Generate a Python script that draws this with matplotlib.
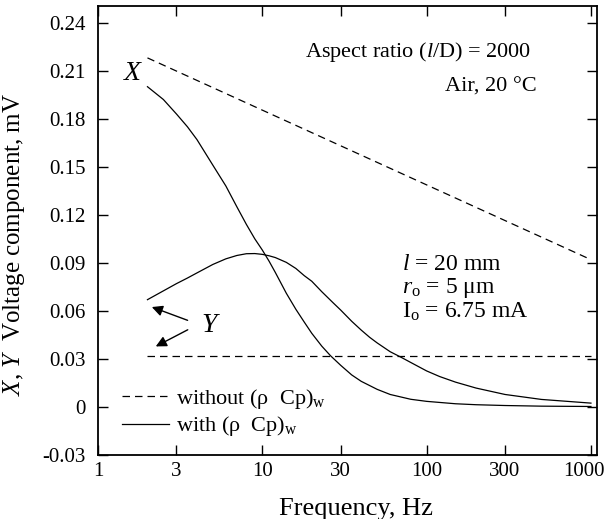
import numpy as np
import matplotlib
matplotlib.use('Agg')
import matplotlib.pyplot as plt
import matplotlib.transforms as mtransforms

plt.rcParams['font.family'] = ['Liberation Serif', 'DejaVu Serif']
plt.rcParams['mathtext.fontset'] = 'custom'
plt.rcParams['mathtext.rm'] = 'Liberation Serif'
plt.rcParams['mathtext.it'] = 'Liberation Serif:italic'

# datos
f_lin = [2, 1000]
x_sin = [0.218, 0.092]          # X sin (rho Cp)w, recta en log f
y_sin = [0.032, 0.032]          # Y sin (rho Cp)w

f_x = [2, 2.5, 3, 3.5, 4, 5, 6, 7, 8, 9, 10, 11, 12, 14, 16, 18, 20, 23, 26, 30,
       35, 40, 50, 60, 80, 100, 150, 200, 300, 500, 1000]
x_con = [0.200, 0.192, 0.183, 0.175, 0.167, 0.151, 0.138, 0.125, 0.114, 0.105, 0.098,
         0.091, 0.084, 0.071, 0.061, 0.053, 0.046, 0.038, 0.032, 0.026,
         0.020, 0.016, 0.011, 0.0078, 0.0048, 0.0035, 0.002, 0.0014, 0.0009, 0.0005, 0.0003]

f_y = [2, 2.5, 3, 3.5, 4, 5, 6, 7, 8, 9, 10, 11, 12, 14, 16, 18, 20, 23, 27, 30,
       35, 40, 45, 50, 60, 70, 80, 100, 120, 150, 200, 300, 500, 1000]
y_con = [0.067, 0.0725, 0.077, 0.0805, 0.0837, 0.089, 0.0925, 0.0946, 0.0957, 0.0958,
         0.0953, 0.0944, 0.0933, 0.0903, 0.0865, 0.082, 0.0785, 0.072, 0.065, 0.0605,
         0.0535, 0.048, 0.0435, 0.040, 0.0345, 0.031, 0.0278, 0.0225, 0.019, 0.0155,
         0.0118, 0.0078, 0.0047, 0.0024]

xticks = [1, 3, 10, 30, 100, 300, 1000]
yticks = [-0.03, 0, 0.03, 0.06, 0.09, 0.12, 0.15, 0.18, 0.21, 0.24]
ytick_labels = ['-0.03', '0', '0.03', '0.06', '0.09', '0.12', '0.15', '0.18', '0.21', '0.24']

fig = plt.figure(figsize=(6.09, 5.19), dpi=100)
ax = fig.add_axes([98 / 609, 64 / 519, 498.5 / 609, 449 / 519])

ax.plot(f_lin, x_sin, 'k--', lw=0.9, dashes=(6, 4), label='without (ρ  Cp)$_\\mathrm{w}$')
ax.plot(f_x, x_con, 'k-', lw=0.9, label='with (ρ  Cp)$_\\mathrm{w}$')
ax.plot(f_lin, y_sin, 'k--', lw=0.9, dashes=(6, 4))
ax.plot(f_y, y_con, 'k-', lw=0.9)

ax.set_xscale('log')
ax.set_xlim(1, 1081)
ax.set_ylim(-0.03, 0.2504)
ax.set_xticks(xticks)
ax.set_xticklabels([str(t) for t in xticks])
ax.minorticks_off()
ax.set_yticks(yticks)
ax.set_yticklabels(ytick_labels)
ax.tick_params(direction='in', length=7, width=1, top=True, right=True, labelsize=15)
ax.tick_params(axis='x', pad=5)
ax.tick_params(axis='y', pad=9)
for s in ax.spines.values():
    s.set_linewidth(1.3)

# la etiqueta 1000 queda pegada al borde derecho: se corre un poco a la izquierda
ultimo = ax.get_xticklabels()[-1]
ultimo.set_transform(ultimo.get_transform() +
                     mtransforms.ScaledTranslation(-7 / 100, 0, fig.dpi_scale_trans))

ax.set_xlabel('Frequency, Hz', fontsize=19)
ax.xaxis.set_label_coords(0.518, -0.095)
ax.set_ylabel('$X$, $Y$  Voltage component, mV', fontsize=18)
ax.yaxis.set_label_coords(-0.143, 0.47)

ax.text(436, 0.2215, 'Aspect ratio ($l$/D) = 2000', fontsize=16, ha='right', va='center')
ax.text(468, 0.200, 'Air, 20 °C', fontsize=16, ha='right', va='center')
ax.text(70.5, 0.0887, '$l$ = 20 mm', fontsize=17, ha='left', va='center')
ax.text(70.5, 0.0741, '$r_\\mathrm{o}$ = 5 μm', fontsize=17, ha='left', va='center')
ax.text(70.5, 0.0595, 'I$_\\mathrm{o}$ = 6.75 mA', fontsize=17, ha='left', va='center')

ax.text(1.64, 0.208, '$X$', fontsize=20, ha='center', va='center')
ax.text(4.86, 0.0507, '$Y$', fontsize=20, ha='center', va='center')
ax.annotate('', xy=(2.05, 0.063), xytext=(3.64, 0.0535),
            arrowprops=dict(arrowstyle='-|>', color='k', lw=1, mutation_scale=16))
ax.annotate('', xy=(2.17, 0.037), xytext=(3.64, 0.049),
            arrowprops=dict(arrowstyle='-|>', color='k', lw=1, mutation_scale=16))

ax.legend(loc='lower left', bbox_to_anchor=(0.049, 0.037), frameon=False, fontsize=16,
          handlelength=2.1, handletextpad=0.3, labelspacing=0.15,
          borderpad=0, borderaxespad=0)

plt.savefig('out.png', dpi=100)
